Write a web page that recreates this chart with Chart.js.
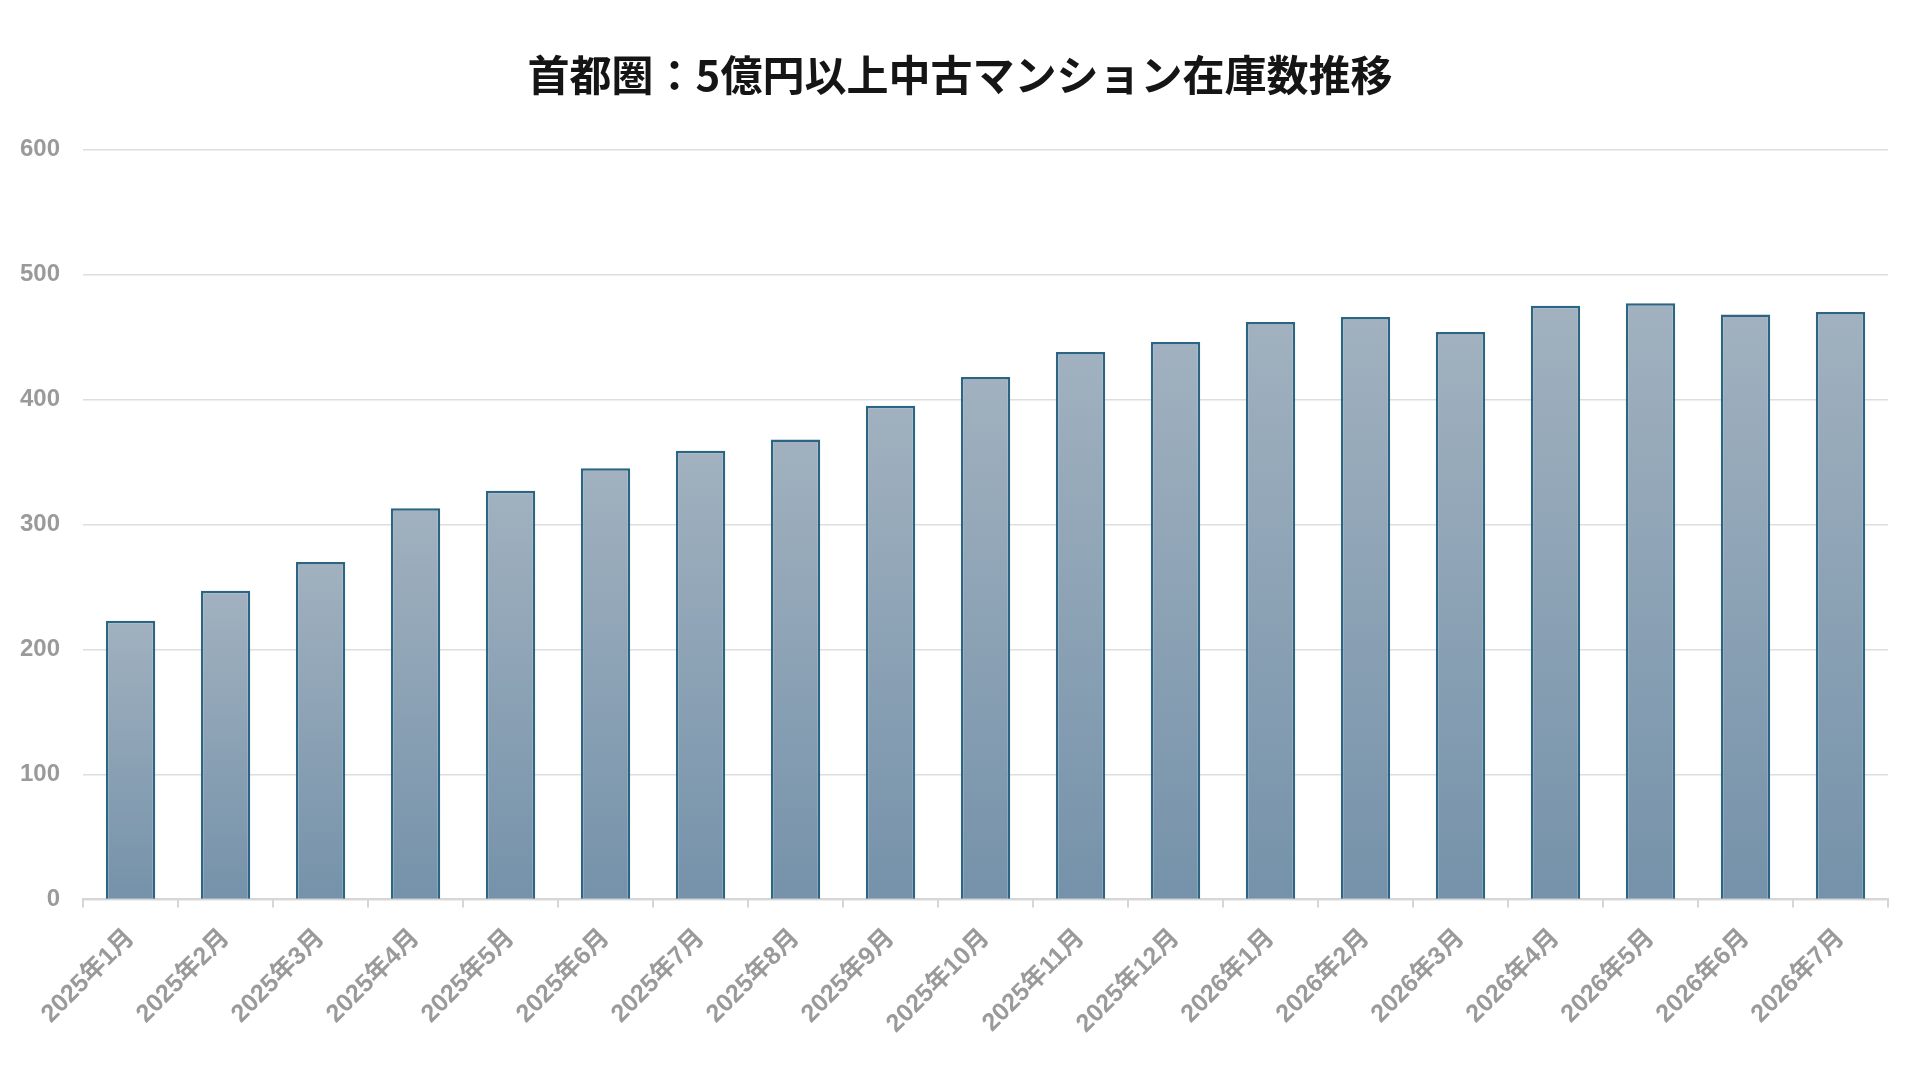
<!DOCTYPE html>
<html lang="ja">
<head>
<meta charset="utf-8">
<title>首都圏：5億円以上中古マンション在庫数推移</title>
<script src="https://cdn.jsdelivr.net/npm/chart.js@4.4.1/dist/chart.umd.min.js"></script>
<style>
    html, body { margin: 0; padding: 0; background: #ffffff; }
    #wrap { width: 1920px; height: 1080px; }
</style>
</head>
<body>
<div id="wrap"><canvas id="stockChart" width="1920" height="1080"></canvas></div>
<script>
// Months on the x axis
const months = [
    '2025年1月', '2025年2月', '2025年3月', '2025年4月', '2025年5月', '2025年6月',
    '2025年7月', '2025年8月', '2025年9月', '2025年10月', '2025年11月', '2025年12月',
    '2026年1月', '2026年2月', '2026年3月', '2026年4月', '2026年5月', '2026年6月', '2026年7月'
];

// Inventory count (units)
const stockCounts = [223, 247, 270, 313, 327, 345, 359, 368, 395, 418, 438, 446, 462, 466, 454, 475, 477, 468, 470];

// Y axis ticks
const yTicks = [0, 100, 200, 300, 400, 500, 600];

const chartTitle = '首都圏：5億円以上中古マンション在庫数推移';

// Vertical gradient for each bar, light at the top and darker at the base
function barGradient(context) {
    const chart = context.chart;
    const { ctx, chartArea, scales } = chart;
    if (!chartArea) return '#8aa0b4';
    const top = scales.y.getPixelForValue(context.raw);
    const bottom = scales.y.getPixelForValue(0);
    const g = ctx.createLinearGradient(0, top, 0, bottom);
    g.addColorStop(0, '#a1b1bf');
    g.addColorStop(1, '#7592aa');
    return g;
}

// Keep the title centred on the whole canvas even though the side paddings differ
const centerTitle = {
    id: 'centerTitle',
    afterLayout(chart) {
        const t = chart.titleBlock;
        if (!t) return;
        const shift = chart.width / 2 - (t.left + t.right) / 2;
        t.left += shift;
        t.right += shift;
    }
};

const tickFamily = "'Liberation Sans', 'Noto Sans CJK JP', sans-serif";

new Chart(document.getElementById('stockChart').getContext('2d'), {
    type: 'bar',
    data: {
        labels: months,
        datasets: [{
            label: '在庫数',
            data: stockCounts,
            backgroundColor: barGradient,
            borderColor: '#2c6483',
            borderWidth: 2.5,
            borderSkipped: 'bottom',
            categoryPercentage: 1.0,
            barPercentage: 0.52
        }]
    },
    options: {
        responsive: false,
        animation: false,
        layout: {
            padding: { left: -3, right: 32, top: 0, bottom: 25 }
        },
        scales: {
            y: {
                min: 0,
                max: 600,
                afterBuildTicks: (axis) => {
                    axis.ticks = yTicks.map(v => ({ value: v }));
                },
                border: { display: false },
                grid: {
                    color: '#dedede',
                    lineWidth: 1.5,
                    drawTicks: false
                },
                ticks: {
                    color: '#9a9a9a',
                    font: { family: tickFamily, size: 24, weight: 'bold' },
                    padding: 23
                }
            },
            x: {
                // rotated first label should not push the plot to the right
                afterFit: (scale) => {
                    scale.paddingLeft = 0;
                    scale.paddingRight = 0;
                },
                border: { display: true, color: '#d6d6d6', width: 2 },
                grid: {
                    drawOnChartArea: false,
                    drawTicks: true,
                    tickLength: 8,
                    color: '#d6d6d6',
                    lineWidth: 2
                },
                ticks: {
                    color: '#9a9a9a',
                    font: { family: tickFamily, size: 25, weight: 'bold' },
                    minRotation: 45,
                    maxRotation: 45,
                    padding: 16,
                    autoSkip: false
                }
            }
        },
        plugins: {
            legend: { display: false },
            tooltip: { enabled: false },
            title: {
                display: true,
                text: chartTitle,
                color: '#151515',
                font: { family: "'Noto Sans CJK JP', sans-serif", size: 42, weight: 'bold' },
                padding: { top: 50, bottom: 49 }
            }
        }
    },
    plugins: [centerTitle]
});
</script>
</body>
</html>
